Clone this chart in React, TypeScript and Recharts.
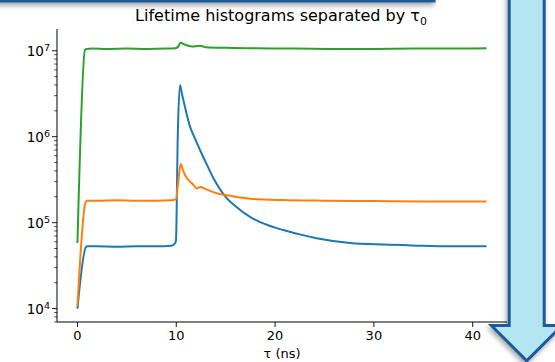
import React from "react"
import { LineChart, Line, XAxis, YAxis } from "recharts"

// time axis (ns) and counts per series
const blueT = [0, 0.86, 1, 2, 4, 6, 8, 9.5, 9.85, 9.97, 10.15, 10.37, 10.6, 10.85, 11.1, 11.39, 11.9, 12.4, 13.0, 13.7, 14.93, 16, 17.46, 19, 20.83, 22.5, 24.2, 27.6, 31, 35, 38, 41.4]
const blueV = [1.0e4, 5.2e4, 5.3e4, 5.3e4, 5.25e4, 5.3e4, 5.3e4, 5.4e4, 5.7e4, 6.2e4, 1.0e6, 4.0e6, 3.05e6, 2.3e6, 1.74e6, 1.31e6, 9.5e5, 7.0e5, 5.0e5, 3.4e5, 2.04e5, 1.55e5, 1.17e5, 9.6e4, 8.2e4, 7.3e4, 6.6e4, 5.8e4, 5.55e4, 5.4e4, 5.3e4, 5.3e4]

const orangeT = [0, 0.8, 0.95, 2, 4, 6, 8, 9.5, 9.97, 10.2, 10.45, 10.7, 11, 11.4, 11.72, 12.06, 12.47, 13, 14.09, 15.5, 17.46, 20.83, 25, 30, 35, 41.4]
const orangeV = [1.07e4, 1.7e5, 1.8e5, 1.8e5, 1.82e5, 1.8e5, 1.8e5, 1.82e5, 1.88e5, 3.0e5, 4.8e5, 4.0e5, 3.4e5, 3.0e5, 2.76e5, 2.5e5, 2.6e5, 2.45e5, 2.2e5, 2.05e5, 1.9e5, 1.83e5, 1.8e5, 1.78e5, 1.76e5, 1.76e5]

const greenT = [0, 0.76, 0.9, 1.5, 3, 5, 7, 9, 9.9, 10.2, 10.45, 10.7, 11.05, 11.6, 12.4, 13, 15, 18, 22, 26, 30, 34, 38, 41.4]
const greenV = [5.8e4, 1.02e7, 1.05e7, 1.06e7, 1.05e7, 1.06e7, 1.05e7, 1.06e7, 1.07e7, 1.12e7, 1.25e7, 1.2e7, 1.16e7, 1.12e7, 1.14e7, 1.1e7, 1.08e7, 1.07e7, 1.06e7, 1.05e7, 1.05e7, 1.06e7, 1.06e7, 1.07e7]

const xTicks = [0, 10, 20, 30, 40]
const yTicks = [
  7e3, 8e3, 9e3,
  1e4, 2e4, 3e4, 4e4, 5e4, 6e4, 7e4, 8e4, 9e4,
  1e5, 2e5, 3e5, 4e5, 5e5, 6e5, 7e5, 8e5, 9e5,
  1e6, 2e6, 3e6, 4e6, 5e6, 6e6, 7e6, 8e6, 9e6,
  1e7,
]

const xDomain = [-2.07, 43.47]
const yDomain = [Math.pow(10, 3.844), Math.pow(10, 7.253)]

const toPoints = (t: number[], v: number[]) => t.map((x, i) => ({ t: x, v: v[i] }))

const FONT = "DejaVu Sans, sans-serif"

function YTick(props: any) {
  const { x, y, payload } = props
  const lg = Math.log10(payload.value)
  const exp = Math.round(lg)
  const major = Math.abs(lg - exp) < 1e-6
  return (
    <g>
      <line x1={x} x2={x - (major ? 5 : 2.8)} y1={y} y2={y} stroke="#000" strokeWidth={major ? 0.9 : 0.7} />
      {major && (
        <text x={x - 7} y={y + 5.5} textAnchor="end" fontSize={13.5} fontFamily={FONT} fill="#000">
          <tspan>10</tspan>
          <tspan dy={-5.5} fontSize={9.5}>{exp}</tspan>
        </text>
      )}
    </g>
  )
}

function XTick(props: any) {
  const { x, y, payload } = props
  return (
    <g>
      <line x1={x} x2={x} y1={y} y2={y + 5} stroke="#000" strokeWidth={0.9} />
      <text x={x} y={y + 18} textAnchor="middle" fontSize={13} fontFamily={FONT} fill="#000">
        {payload.value}
      </text>
    </g>
  )
}

export default function App() {
  return (
    <div style={{ position: "absolute", left: 0, top: 0, width: 555, height: 362, overflow: "hidden", background: "#fff" }}>
      <LineChart width={555} height={362} margin={{ top: 29, right: 48, bottom: 0, left: 0 }}>
        <XAxis
          dataKey="t"
          type="number"
          domain={xDomain}
          ticks={xTicks}
          interval={0}
          allowDataOverflow
          height={40}
          tickSize={0}
          tickMargin={0}
          tickLine={false}
          axisLine={{ stroke: "#000", strokeWidth: 1 }}
          tick={<XTick />}
        />
        <XAxis xAxisId="top" orientation="top" dataKey="t" type="number" domain={xDomain} allowDataOverflow height={0} tick={false} tickLine={false} axisLine={{ stroke: "#000", strokeWidth: 1 }} />
        <YAxis
          dataKey="v"
          type="number"
          scale="log"
          domain={yDomain}
          ticks={yTicks}
          interval={0}
          allowDataOverflow
          width={57}
          tickSize={0}
          tickMargin={0}
          tickLine={false}
          axisLine={{ stroke: "#000", strokeWidth: 1 }}
          tick={<YTick />}
        />
        <YAxis yAxisId="right" orientation="right" dataKey="v" type="number" scale="log" domain={yDomain} allowDataOverflow width={0} tick={false} tickLine={false} axisLine={{ stroke: "#000", strokeWidth: 1 }} />
        <Line data={toPoints(blueT, blueV)} dataKey="v" type="monotone" stroke="#1f77b4" strokeWidth={2} dot={false} isAnimationActive={false} />
        <Line data={toPoints(orangeT, orangeV)} dataKey="v" type="monotone" stroke="#ff7f0e" strokeWidth={2} dot={false} isAnimationActive={false} />
        <Line data={toPoints(greenT, greenV)} dataKey="v" type="monotone" stroke="#2ca02c" strokeWidth={2} dot={false} isAnimationActive={false} />
      </LineChart>

      <svg width={555} height={362} style={{ position: "absolute", left: 0, top: 0, pointerEvents: "none" }}>
        <defs>
          <filter id="shade" x="-30%" y="-30%" width="160%" height="160%">
            <feDropShadow dx={-1.5} dy={3} stdDeviation={2.5} floodColor="#000" floodOpacity={0.35} />
          </filter>
        </defs>
        <text x={281} y={21} textAnchor="middle" fontSize={16} fontFamily={FONT} fill="#000">
          <tspan>Lifetime histograms separated by τ</tspan>
          <tspan dy={3.5} fontSize={11}>0</tspan>
        </text>
        <text x={282} y={357.5} textAnchor="middle" fontSize={13} fontFamily={FONT} fill="#000">τ (ns)</text>
        {/* top box edge */}
        <rect x={-10} y={-30} width={444} height={31} fill="#b3e6f0" stroke="#1c5a9c" strokeWidth={3} filter="url(#shade)" />
        {/* down arrow */}
        <path
          d="M509.2,-10 L544.2,-10 L544.2,325.5 L562,325.5 L526.7,360.8 L491.4,325.5 L509.2,325.5 Z"
          fill="#b3e6f0"
          stroke="#1c5a9c"
          strokeWidth={3}
          strokeLinejoin="miter"
          filter="url(#shade)"
        />
      </svg>
    </div>
  )
}
